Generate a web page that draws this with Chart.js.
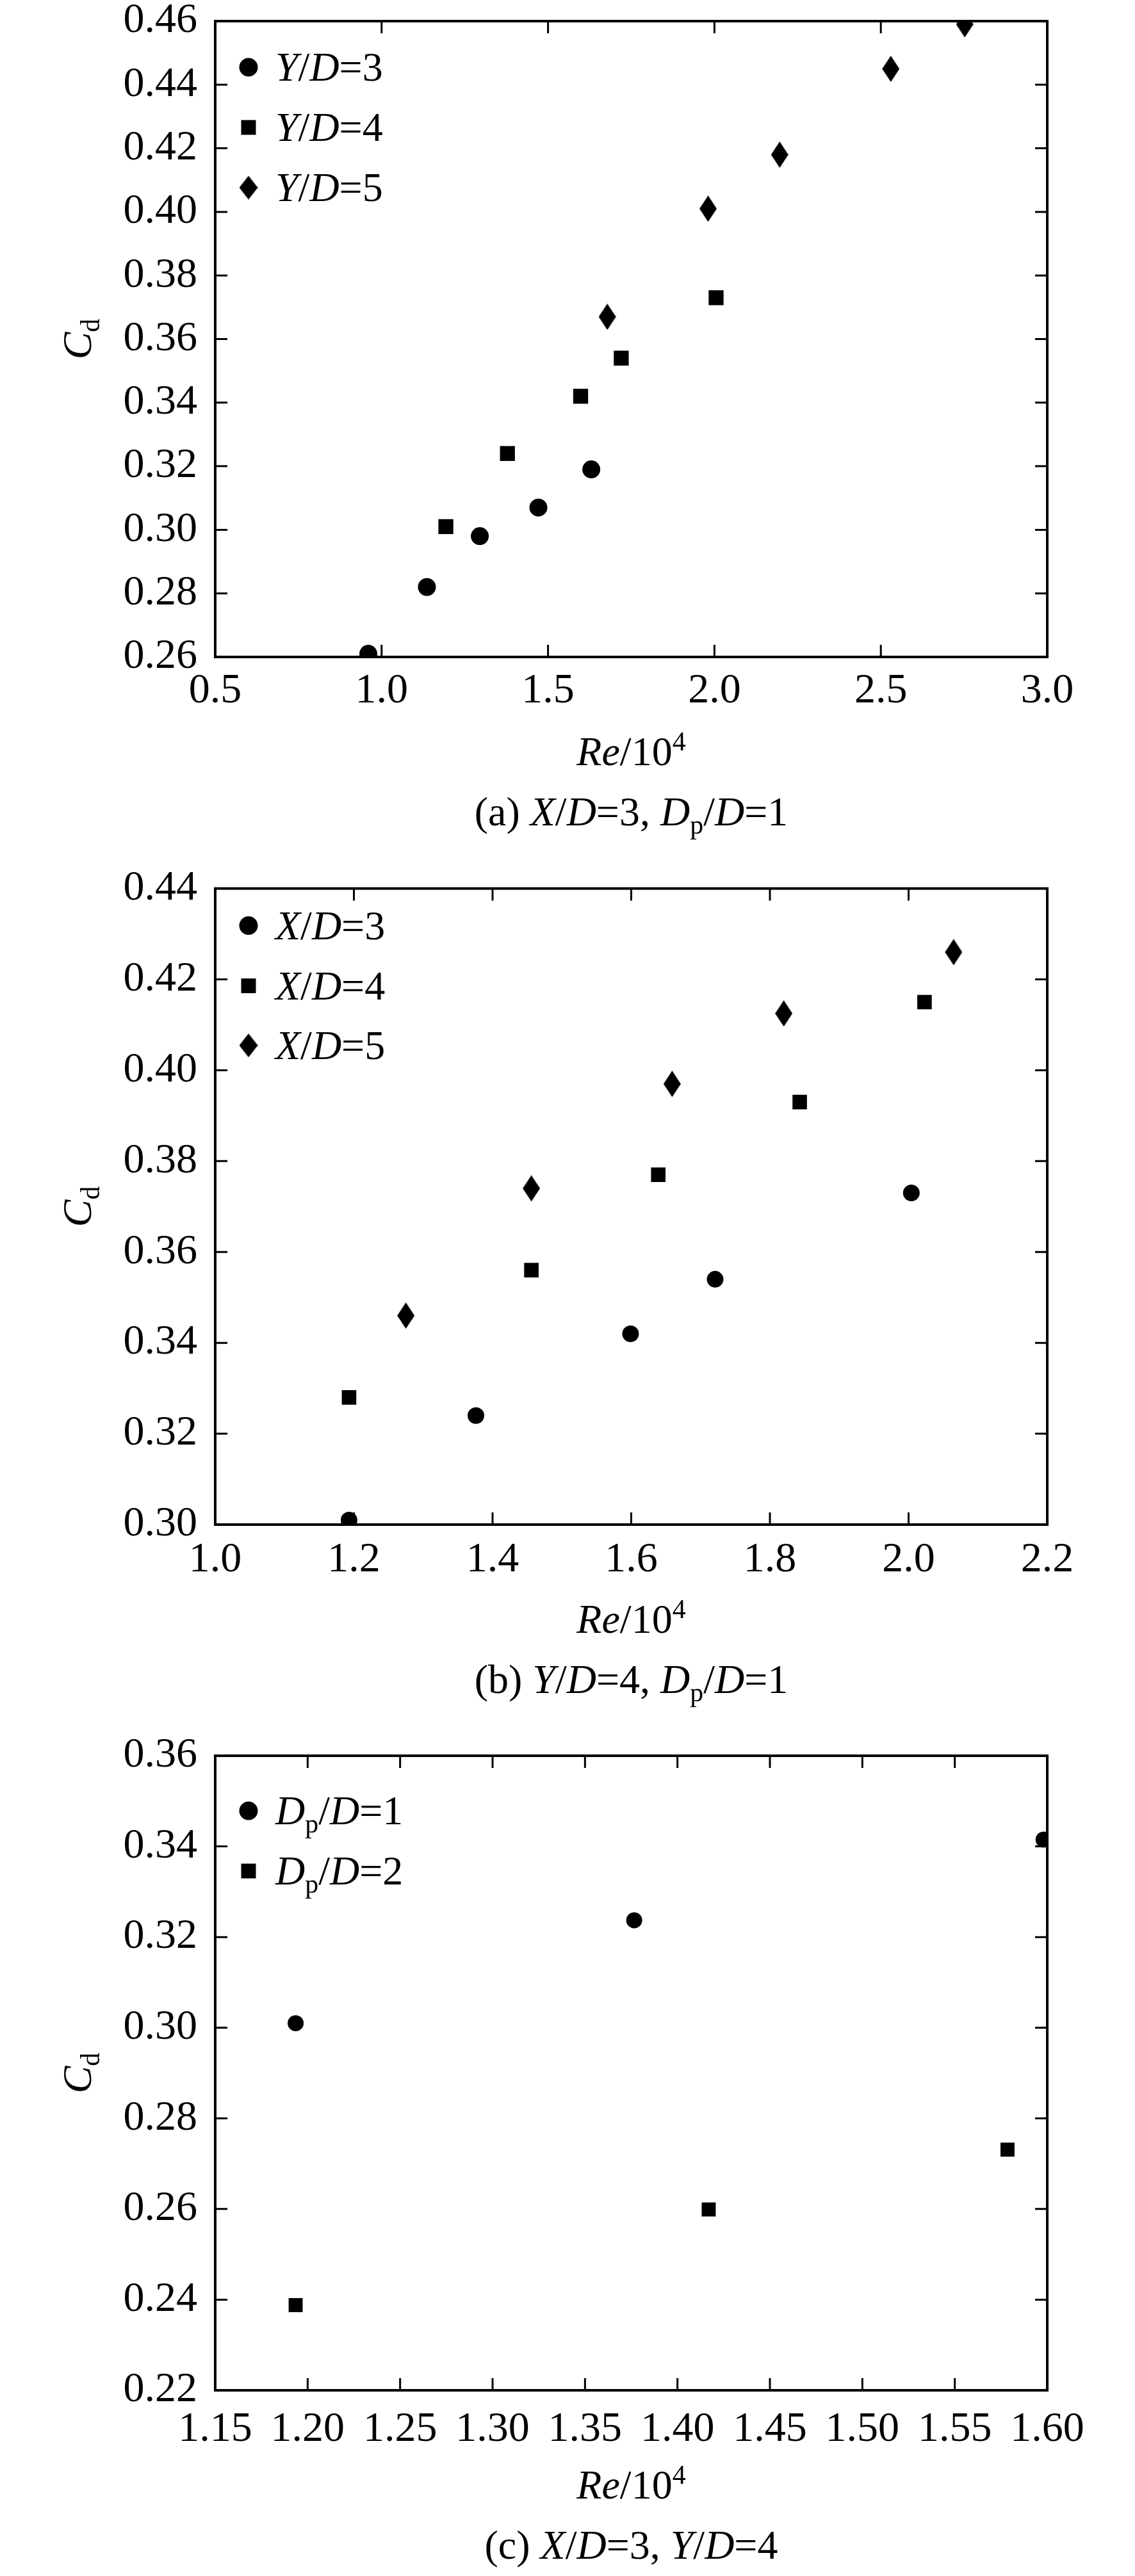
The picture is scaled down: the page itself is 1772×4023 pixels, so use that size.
<!DOCTYPE html>
<html>
<head>
<meta charset="utf-8">
<script src="https://cdn.jsdelivr.net/npm/chart.js@4.4.1/dist/chart.umd.min.js"></script>
<style>
  html, body { margin: 0; padding: 0; background: #fff; }
  #wrap { position: relative; width: 1772px; height: 4023px; overflow: hidden; background: #fff; }
  #wrap canvas { position: absolute; left: 0; }
</style>
</head>
<body>
<div id="wrap">
  <canvas id="chartA" width="1772" height="1400" style="top:-40px"></canvas>
  <canvas id="chartB" width="1772" height="1380" style="top:1320px"></canvas>
  <canvas id="chartC" width="1772" height="1353" style="top:2670px"></canvas>
</div>
<script>
// ---- panel (a): X/D=3, Dp/D=1 ----
const reA_YD3 = [0.960, 1.136, 1.295, 1.471, 1.630];
const cdA_YD3 = [0.261, 0.282, 0.298, 0.307, 0.319];
const reA_YD4 = [1.193, 1.378, 1.598, 1.720, 2.005];
const cdA_YD4 = [0.301, 0.324, 0.342, 0.354, 0.373];
const reA_YD5 = [1.678, 1.981, 2.196, 2.530, 2.752];
const cdA_YD5 = [0.367, 0.401, 0.418, 0.445, 0.459];
const xTicksA = [0.5, 1.0, 1.5, 2.0, 2.5, 3.0];
const yTicksA = [0.26, 0.28, 0.30, 0.32, 0.34, 0.36, 0.38, 0.40, 0.42, 0.44, 0.46];

// ---- panel (b): Y/D=4, Dp/D=1 ----
const reB_XD3 = [1.193, 1.376, 1.599, 1.721, 2.004];
const cdB_XD3 = [0.301, 0.324, 0.342, 0.354, 0.373];
const reB_XD4 = [1.193, 1.456, 1.639, 1.843, 2.023];
const cdB_XD4 = [0.328, 0.356, 0.377, 0.393, 0.415];
const reB_XD5 = [1.275, 1.456, 1.659, 1.820, 2.065];
const cdB_XD5 = [0.346, 0.374, 0.397, 0.4125, 0.426];
const xTicksB = [1.0, 1.2, 1.4, 1.6, 1.8, 2.0, 2.2];
const yTicksB = [0.30, 0.32, 0.34, 0.36, 0.38, 0.40, 0.42, 0.44];

// ---- panel (c): X/D=3, Y/D=4 ----
const reC_Dp1 = [1.1935, 1.3766, 1.598];
const cdC_Dp1 = [0.301, 0.3237, 0.3415];
const reC_Dp2 = [1.1935, 1.4169, 1.5785];
const cdC_Dp2 = [0.2388, 0.2599, 0.2731];
const xTicksC = [1.15, 1.20, 1.25, 1.30, 1.35, 1.40, 1.45, 1.50, 1.55, 1.60];
const yTicksC = [0.22, 0.24, 0.26, 0.28, 0.30, 0.32, 0.34, 0.36];

const FONT = "'Liberation Serif', 'Times New Roman', serif";
const FS = 64;       // legend, titles, captions
const TICK_FS = 66;  // tick labels

// elongated diamond marker
function diamondImage(w, h) {
    const c = document.createElement('canvas');
    c.width = w; c.height = h;
    const g = c.getContext('2d');
    g.fillStyle = '#000';
    g.beginPath();
    g.moveTo(w / 2, 0);
    g.lineTo(w, h / 2);
    g.lineTo(w / 2, h);
    g.lineTo(0, h / 2);
    g.closePath();
    g.fill();
    return c;
}
const diamondPlot = diamondImage(27, 41);
const diamondLegend = diamondImage(29, 37);

// rich text: parts = [[text, style]], style: 'n' normal, 'i' italic, 'sub', 'sup'
function partFont(style, size) {
    if (style === 'i') return 'italic ' + size + 'px ' + FONT;
    if (style === 'sub' || style === 'sup') return Math.round(size * 0.65) + 'px ' + FONT;
    return size + 'px ' + FONT;
}
function richWidth(ctx, parts, size) {
    let w = 0;
    parts.forEach(([t, s]) => { ctx.font = partFont(s, size); w += ctx.measureText(t).width; });
    return w;
}
function drawRich(ctx, parts, x, y, size, align) {
    let cx = x;
    if (align === 'center') cx = x - richWidth(ctx, parts, size) / 2;
    ctx.fillStyle = '#000';
    ctx.textBaseline = 'alphabetic';
    ctx.textAlign = 'left';
    parts.forEach(([t, s]) => {
        ctx.font = partFont(s, size);
        let dy = 0;
        if (s === 'sub') dy = size * 0.2;
        if (s === 'sup') dy = -size * 0.36;
        ctx.fillText(t, cx, y + dy);
        cx += ctx.measureText(t).width;
    });
}

// frame, inward ticks, legend, axis titles and caption
const decorPlugin = {
    id: 'decor',
    afterDatasetsDraw(chart, args, opts) {
        const ctx = chart.ctx;
        const a = chart.chartArea;
        const xs = chart.scales.x, ys = chart.scales.y;
        ctx.save();
        ctx.strokeStyle = '#000';
        ctx.lineWidth = 3;
        const tl = 19;
        xs.ticks.forEach(t => {
            if (t.value <= xs.min || t.value >= xs.max) return;
            const px = xs.getPixelForValue(t.value);
            ctx.beginPath();
            ctx.moveTo(px, a.bottom); ctx.lineTo(px, a.bottom - tl);
            ctx.moveTo(px, a.top); ctx.lineTo(px, a.top + tl);
            ctx.stroke();
        });
        ys.ticks.forEach(t => {
            if (t.value <= ys.min || t.value >= ys.max) return;
            const py = ys.getPixelForValue(t.value);
            ctx.beginPath();
            ctx.moveTo(a.left, py); ctx.lineTo(a.left + tl, py);
            ctx.moveTo(a.right, py); ctx.lineTo(a.right - tl, py);
            ctx.stroke();
        });
        ctx.lineWidth = 4;
        ctx.strokeRect(a.left, a.top, a.right - a.left, a.bottom - a.top);

        // legend inside the plot
        chart.data.datasets.forEach((ds, i) => {
            const cy = a.top + opts.legendRows[i];
            const mx = 388;
            ctx.fillStyle = '#000';
            if (ds.pointStyle === 'circle') {
                ctx.beginPath(); ctx.arc(mx, cy, 14.5, 0, Math.PI * 2); ctx.fill();
            } else if (ds.pointStyle === 'rect') {
                ctx.fillRect(mx - 11.5, cy - 11.5, 23, 23);
            } else {
                ctx.drawImage(diamondLegend, mx - diamondLegend.width / 2, cy - diamondLegend.height / 2);
            }
            drawRich(ctx, opts.legendText[i], 430, cy + 21, FS, 'left');
        });

        const midX = (a.left + a.right) / 2;
        drawRich(ctx, [['Re', 'i'], ['/10', 'n'], ['4', 'sup']], midX, a.bottom + 169, FS, 'center');
        drawRich(ctx, opts.caption, midX, a.bottom + 263, FS, 'center');

        // rotated Cd
        ctx.save();
        ctx.translate(142, (a.top + a.bottom) / 2);
        ctx.rotate(-Math.PI / 2);
        drawRich(ctx, [['C', 'i'], ['d', 'sub']], 0, 0, FS, 'center');
        ctx.restore();
        ctx.restore();
    }
};

function points(xs, ys) {
    return xs.map((x, i) => ({ x: x, y: ys[i] }));
}

function dataset(label, xs, ys, style, r) {
    return {
        label: label,
        data: points(xs, ys),
        pointStyle: style,
        pointRadius: r,
        pointHoverRadius: r,
        backgroundColor: '#000',
        borderColor: '#000',
        borderWidth: 0,
        showLine: false
    };
}

function makeChart(id, cfg) {
    const ctx = document.getElementById(id).getContext('2d');
    return new Chart(ctx, {
        type: 'scatter',
        data: { datasets: cfg.datasets },
        options: {
            responsive: false,
            animation: false,
            devicePixelRatio: 1,
            layout: { padding: { top: cfg.padTop, right: 137, bottom: 0, left: 0 } },
            plugins: {
                legend: { display: false },
                tooltip: { enabled: false },
                decor: { legendRows: cfg.legendRows, legendText: cfg.legendText, caption: cfg.caption }
            },
            scales: {
                x: {
                    type: 'linear',
                    min: cfg.xTicks[0],
                    max: cfg.xTicks[cfg.xTicks.length - 1],
                    afterBuildTicks: s => { s.ticks = cfg.xTicks.map(v => ({ value: v })); },
                    afterFit: s => { s.height = cfg.xHeight; },
                    grid: { display: false, drawTicks: false },
                    border: { display: false },
                    ticks: {
                        autoSkip: false,
                        maxRotation: 0,
                        padding: cfg.xPad,
                        color: '#000',
                        font: { family: FONT, size: TICK_FS },
                        callback: v => Number(v).toFixed(cfg.xDec)
                    }
                },
                y: {
                    type: 'linear',
                    min: cfg.yTicks[0],
                    max: cfg.yTicks[cfg.yTicks.length - 1],
                    afterBuildTicks: s => { s.ticks = cfg.yTicks.map(v => ({ value: v })); },
                    afterFit: s => { s.width = 336; },
                    grid: { display: false, drawTicks: false },
                    border: { display: false },
                    ticks: {
                        padding: 28,
                        color: '#000',
                        font: { family: FONT, size: TICK_FS },
                        callback: v => Number(v).toFixed(2)
                    }
                }
            }
        },
        plugins: [decorPlugin]
    });
}

makeChart('chartA', {
    datasets: [
        dataset('Y/D=3', reA_YD3, cdA_YD3, 'circle', 14),
        dataset('Y/D=4', reA_YD4, cdA_YD4, 'rect', 16.5),
        dataset('Y/D=5', reA_YD5, cdA_YD5, diamondPlot, 14)
    ],
    xTicks: xTicksA, yTicks: yTicksA, xDec: 1, xPad: 14,
    padTop: 73, xHeight: 334,
    legendRows: [72, 166, 260],
    legendText: [
        [['Y', 'i'], ['/', 'n'], ['D', 'i'], ['=3', 'n']],
        [['Y', 'i'], ['/', 'n'], ['D', 'i'], ['=4', 'n']],
        [['Y', 'i'], ['/', 'n'], ['D', 'i'], ['=5', 'n']]
    ],
    caption: [['(a) ', 'n'], ['X', 'i'], ['/', 'n'], ['D', 'i'], ['=3, ', 'n'], ['D', 'i'], ['p', 'sub'], ['/', 'n'], ['D', 'i'], ['=1', 'n']]
});

makeChart('chartB', {
    datasets: [
        dataset('X/D=3', reB_XD3, cdB_XD3, 'circle', 13),
        dataset('X/D=4', reB_XD4, cdB_XD4, 'rect', 16),
        dataset('X/D=5', reB_XD5, cdB_XD5, diamondPlot, 14)
    ],
    xTicks: xTicksB, yTicks: yTicksB, xDec: 1, xPad: 16,
    padTop: 67, xHeight: 319,
    legendRows: [58, 152, 245],
    legendText: [
        [['X', 'i'], ['/', 'n'], ['D', 'i'], ['=3', 'n']],
        [['X', 'i'], ['/', 'n'], ['D', 'i'], ['=4', 'n']],
        [['X', 'i'], ['/', 'n'], ['D', 'i'], ['=5', 'n']]
    ],
    caption: [['(b) ', 'n'], ['Y', 'i'], ['/', 'n'], ['D', 'i'], ['=4, ', 'n'], ['D', 'i'], ['p', 'sub'], ['/', 'n'], ['D', 'i'], ['=1', 'n']]
});

makeChart('chartC', {
    datasets: [
        dataset('Dp/D=1', reC_Dp1, cdC_Dp1, 'circle', 12.5),
        dataset('Dp/D=2', reC_Dp2, cdC_Dp2, 'rect', 15.5)
    ],
    xTicks: xTicksC, yTicks: yTicksC, xDec: 2, xPad: 22,
    padTop: 72, xHeight: 290,
    legendRows: [86, 180],
    legendText: [
        [['D', 'i'], ['p', 'sub'], ['/', 'n'], ['D', 'i'], ['=1', 'n']],
        [['D', 'i'], ['p', 'sub'], ['/', 'n'], ['D', 'i'], ['=2', 'n']]
    ],
    caption: [['(c) ', 'n'], ['X', 'i'], ['/', 'n'], ['D', 'i'], ['=3, ', 'n'], ['Y', 'i'], ['/', 'n'], ['D', 'i'], ['=4', 'n']]
});
</script>
</body>
</html>
